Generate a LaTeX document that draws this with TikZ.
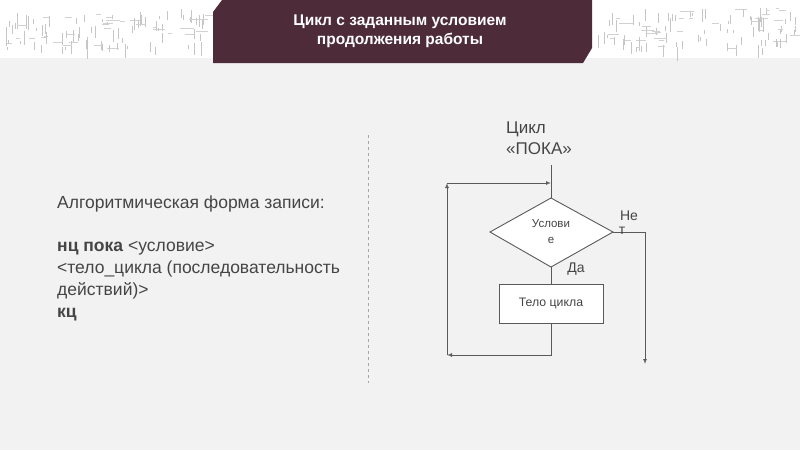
\documentclass[tikz,border=0pt]{standalone}
\usepackage{fontspec}
\setmainfont{Liberation Sans}
\usetikzlibrary{arrows.meta}
\definecolor{banner}{HTML}{4D2B38}
\definecolor{bg}{HTML}{F2F2F2}
\definecolor{ln}{HTML}{5A5A5A}
\definecolor{tx}{HTML}{454545}
\tikzset{
  flow/.style={draw=ln, line width=0.9pt},
  arr/.style={-{Latex[open,length=5pt,width=4pt]}},
  lbl/.style={text=tx, font=\fontsize{14}{16}\selectfont, inner sep=0pt},
  body/.style={text=tx, font=\fontsize{17.5}{20}\selectfont, anchor=base west, inner sep=0pt},
}
\begin{document}
\begin{tikzpicture}[x=1pt,y=-1pt]
\useasboundingbox (0,0) rectangle (800,450);
\fill[bg] (0,0) rectangle (800,450);
\fill[white] (0,0) rectangle (800,58);
% circuit-like texture in the top strip
\pgfmathsetseed{7}
\foreach \i in {1,...,220}{
  \pgfmathsetmacro{\xa}{ifthenelse(random(0,1)==1, random(5,205), random(598,795))}
  \pgfmathsetmacro{\ya}{random(8,48)}
  \pgfmathsetmacro{\ll}{random(3,14)}
  \pgfmathsetmacro{\dd}{random(0,2)}
  \ifnum\dd>0
    \draw[gray!45, line width=0.8pt] (\xa,\ya) -- ++(0,\ll);
  \else
    \draw[gray!35, line width=0.8pt] (\xa,\ya) -- ++(\ll,0);
  \fi
}
% banner
\fill[banner] (222,0) -- (592,0) -- (592,48) -- (583,63) -- (213,63) -- (213,12) -- cycle;
\node[text=white, font=\fontsize{15.5}{19}\selectfont\bfseries, align=center] (title) at (400,31)
  {Цикл с заданным условием\\продолжения работы};
% divider
\draw[gray!70, dashed, line width=0.7pt] (368,135) -- (368,383);
% left text
\node[body] (t1) at (57,208) {Алгоритмическая форма записи:};
\node[body] (t2) at (57,251) {\textbf{нц пока} <условие>};
\node[body] (t3) at (57,273) {<тело\_цикла (последовательность};
\node[body] (t4) at (57,295) {действий)>};
\node[body] (t5) at (57,317) {\textbf{кц}};
% flowchart
\node[text=tx, font=\fontsize{17}{21}\selectfont, align=left, anchor=north west, inner sep=0pt] (head) at (506,122) {Цикл\\«ПОКА»};
\coordinate (top) at (551,165);
\coordinate (diaT) at (551,198);
\coordinate (diaB) at (551,267);
\coordinate (diaL) at (490,232);
\coordinate (diaR) at (613,232);
\fill[white] (diaT) -- (diaR) -- (diaB) -- (diaL) -- cycle;
\draw[flow] (diaT) -- (diaR) -- (diaB) -- (diaL) -- cycle;
\node[lbl, font=\fontsize{11.5}{16}\selectfont, align=center] (cond) at (551,232) {Услови\\е};
\node[draw=ln, fill=white, line width=0.9pt, minimum width=104pt, minimum height=39pt, inner sep=0pt,
  text=tx, font=\fontsize{12.3}{14}\selectfont] (body) at (551,303.5) {Тело цикла};
\coordinate (loopTR) at (551,183);
\coordinate (loopTL) at (447,183);
\coordinate (loopBL) at (447,355);
\coordinate (loopBR) at (551,355);
\coordinate (exitR) at (645,232);
\coordinate (exitB) at (645,364);
\draw[flow] (top) -- (diaT);
\draw[flow] (diaB) -- (body.north);
\draw[flow, arr] (body.south) -- (loopBR) -- (loopBL);
\draw[flow, arr] (loopBL) -- (loopTL);
\draw[flow, arr] (loopTL) -- (loopTR);
\draw[flow, arr] (diaR) -- (exitR) -- (exitB);
\node[lbl] (no1) at (629,216) {Не};
\node[lbl] (no2) at (622,231) {т};
\node[lbl] (yes) at (576,269) {Да};
\end{tikzpicture}
\end{document}
